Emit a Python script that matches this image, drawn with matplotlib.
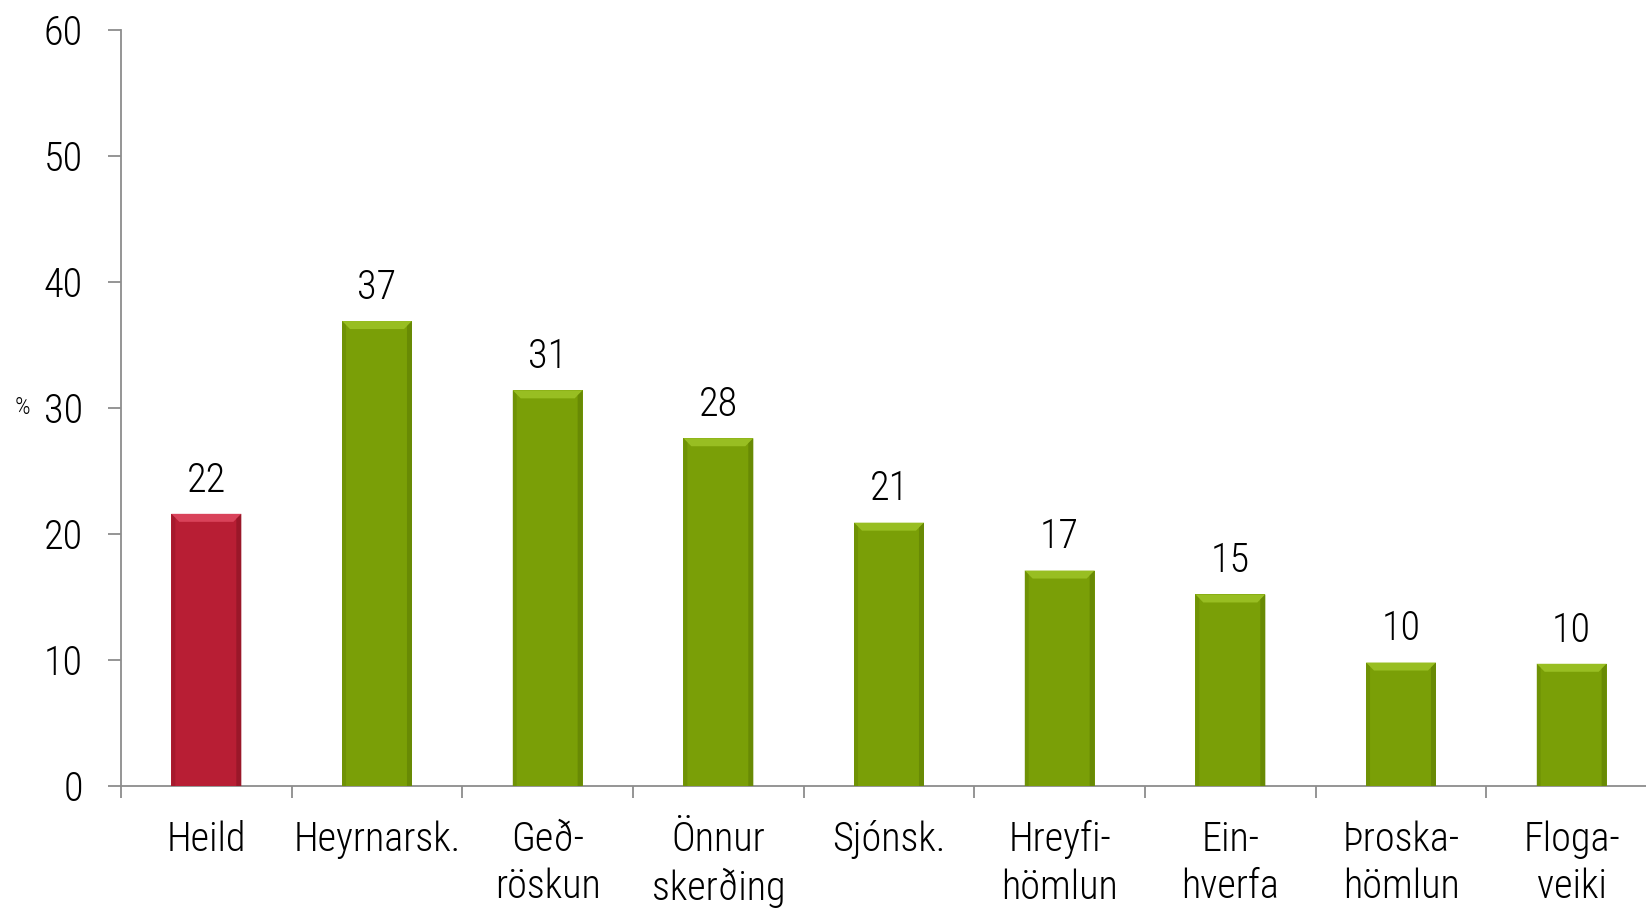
import matplotlib
matplotlib.use("Agg")
import matplotlib.pyplot as plt
from matplotlib import font_manager
from matplotlib.patches import Polygon
import numpy as np

categories = ["Heild", "Heyrnarsk.", "Geð-\nröskun", "Önnur\nskerðing", "Sjónsk.",
              "Hreyfi-\nhömlun", "Ein-\nhverfa", "Þroska-\nhömlun", "Floga-\nveiki"]
values = [21.6, 36.9, 31.4, 27.6, 20.9, 17.1, 15.2, 9.8, 9.7]
value_labels = ["22", "37", "31", "28", "21", "17", "15", "10", "10"]
bar_colors = ["#B81E34"] + ["#7A9F07"] * 8
top_colors = ["#D9425A"] + ["#98BE22"] * 8
side_colors = ["#9A1729"] + ["#688A04"] * 8
yticks = [0, 10, 20, 30, 40, 50, 60]

avail = {f.name for f in font_manager.fontManager.ttflist}
family = "DejaVu Sans"
for cand in ["Liberation Sans Narrow", "Roboto Condensed", "Open Sans Condensed", "Liberation Sans"]:
    if cand in avail:
        family = cand
        break
plt.rcParams["font.family"] = [family, "DejaVu Sans"]
plt.rcParams["font.weight"] = "light"

W, H = 1646, 909
fig = plt.figure(figsize=(W / 100, H / 100), dpi=100)
ax = fig.add_axes([121 / W, 123 / H, 1536 / W, 756 / H])

x = np.arange(len(categories))
bw = 0.41
bars = ax.bar(x, values, width=bw, color=bar_colors, zorder=3, linewidth=0)
ax.set_xlim(-0.5, len(categories) - 0.5)
ax.set_ylim(0, 60)

# bevel overlays derived from bar geometry
px_x = 1.0 / 170.7   # data units per pixel in x
px_y = 60.0 / 756    # data units per pixel in y
bev = 8
for b, tc, sc in zip(bars, top_colors, side_colors):
    x0, x1 = b.get_x(), b.get_x() + b.get_width()
    h = b.get_height()
    top = Polygon([(x0, h), (x1, h), (x1 - bev * px_x, h - bev * px_y), (x0 + bev * px_x, h - bev * px_y)],
                  closed=True, color=tc, zorder=4, linewidth=0)
    left = Polygon([(x0, 0), (x0, h), (x0 + 4 * px_x, h - 4 * px_y), (x0 + 4 * px_x, 0)],
                   closed=True, color=sc, zorder=4, linewidth=0, alpha=0.6)
    right = Polygon([(x1, 0), (x1, h), (x1 - 5 * px_x, h - 5 * px_y), (x1 - 5 * px_x, 0)],
                    closed=True, color=sc, zorder=4, linewidth=0)
    ax.add_patch(top)
    ax.add_patch(left)
    ax.add_patch(right)

for xi, v, lab in zip(x, values, value_labels):
    ax.annotate(lab, (xi, v), xytext=(0, 16), textcoords="offset points",
                ha="center", va="baseline", fontsize=29, color="#000000")

for s in ["top", "right"]:
    ax.spines[s].set_visible(False)
for s in ["left", "bottom"]:
    ax.spines[s].set_color("#8C8C8C")
    ax.spines[s].set_linewidth(1.3)

ax.set_yticks(yticks)
ax.set_yticklabels([str(t) for t in yticks], fontsize=29)
ax.tick_params(axis="y", direction="out", length=9.4, width=1.3, color="#8C8C8C", pad=18)

ax.set_xticks(np.arange(len(categories) + 1) - 0.5)
ax.set_xticklabels([])
ax.tick_params(axis="x", which="major", direction="out", length=8.6, width=1.3, color="#8C8C8C")
ax.set_xticks(x, minor=True)
ax.set_xticklabels(categories, minor=True, fontsize=29, linespacing=1.3)
ax.tick_params(axis="x", which="minor", length=0, pad=24.5)

fig.text(22.5 / W, 1 - 408 / H, "%", fontsize=17.5, ha="center", va="center")

fig.savefig("out.png", dpi=100)
